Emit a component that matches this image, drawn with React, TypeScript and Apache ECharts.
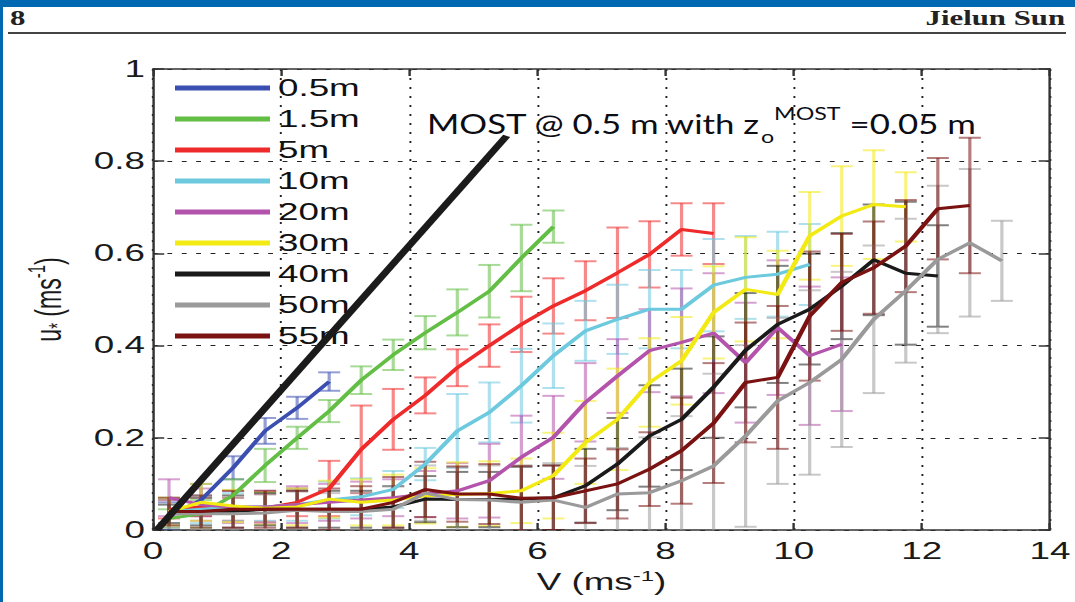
import React, { useEffect, useRef } from "react";
import * as echarts from "echarts";

// The reference figure is horizontally stretched; we draw in a narrower
// virtual space and stretch it back with CSS.
const S = 1.6;
const K = 1.29; // on-screen stretch of the annotation text
const H = 1.4; // on-screen stretch of the page header

const V = [0.25, 0.75, 1.25, 1.75, 2.25, 2.75, 3.25, 3.75, 4.25, 4.75, 5.25, 5.75, 6.25, 6.75, 7.25, 7.75, 8.25, 8.75, 9.25, 9.75, 10.25, 10.75, 11.25, 11.75, 12.25, 12.75, 13.25];
const xTicks = [0, 2, 4, 6, 8, 10, 12, 14];
const yTickLabels = ["0", "0.2", "0.4", "0.6", "0.8", "1"];

const heights = ["0.5m", "1.5m", "5m", "10m", "20m", "30m", "40m", "50m", "55m"];
const colors = ["#3b4fb0", "#62be44", "#ee2a2a", "#6cc9de", "#b453ac", "#f2ea12", "#1a1a1a", "#9a9a9a", "#7a1212"];

const u05 = [0.03, 0.065, 0.135, 0.215, 0.265, 0.322];
const e05 = [0.03, 0.035, 0.025, 0.028, 0.024, 0.02];
const u15 = [0.025, 0.035, 0.075, 0.14, 0.2, 0.258, 0.325, 0.38, 0.428, 0.472, 0.518, 0.59, 0.658];
const e15 = [0.02, 0.03, 0.035, 0.036, 0.024, 0.024, 0.03, 0.033, 0.036, 0.05, 0.057, 0.072, 0.035];
const u5 = [0.045, 0.05, 0.045, 0.048, 0.06, 0.09, 0.175, 0.24, 0.292, 0.352, 0.4, 0.446, 0.486, 0.519, 0.558, 0.598, 0.652, 0.643];
const e5 = [0.02, 0.02, 0.025, 0.03, 0.03, 0.06, 0.095, 0.066, 0.039, 0.04, 0.046, 0.06, 0.06, 0.064, 0.098, 0.072, 0.057, 0.066];
const u10 = [0.04, 0.045, 0.05, 0.05, 0.055, 0.065, 0.072, 0.088, 0.143, 0.215, 0.255, 0.313, 0.378, 0.432, 0.457, 0.479, 0.479, 0.531, 0.548, 0.555, 0.576];
const e10 = [0.03, 0.03, 0.03, 0.03, 0.035, 0.04, 0.04, 0.04, 0.035, 0.08, 0.065, 0.08, 0.07, 0.065, 0.075, 0.085, 0.085, 0.1, 0.09, 0.092, 0.088];
const u20 = [0.07, 0.055, 0.05, 0.05, 0.055, 0.06, 0.065, 0.07, 0.078, 0.085, 0.107, 0.158, 0.201, 0.277, 0.334, 0.389, 0.407, 0.427, 0.363, 0.439, 0.378, 0.403];
const e20 = [0.04, 0.035, 0.035, 0.035, 0.04, 0.04, 0.04, 0.04, 0.05, 0.06, 0.08, 0.09, 0.09, 0.085, 0.08, 0.09, 0.117, 0.13, 0.13, 0.146, 0.15, 0.145];
const u30 = [0.04, 0.06, 0.052, 0.047, 0.05, 0.067, 0.06, 0.065, 0.074, 0.077, 0.079, 0.085, 0.118, 0.19, 0.24, 0.32, 0.367, 0.472, 0.522, 0.511, 0.638, 0.681, 0.706, 0.701];
const e30 = [0.03, 0.04, 0.035, 0.035, 0.04, 0.04, 0.05, 0.055, 0.06, 0.07, 0.07, 0.07, 0.093, 0.09, 0.11, 0.096, 0.095, 0.1, 0.113, 0.095, 0.095, 0.108, 0.118, 0.075];
const u40 = [0.035, 0.04, 0.04, 0.045, 0.045, 0.045, 0.045, 0.05, 0.067, 0.066, 0.066, 0.067, 0.07, 0.096, 0.143, 0.204, 0.24, 0.31, 0.39, 0.446, 0.479, 0.529, 0.586, 0.557, 0.551];
const e40 = [0.02, 0.03, 0.035, 0.035, 0.04, 0.04, 0.04, 0.045, 0.05, 0.06, 0.06, 0.07, 0.07, 0.08, 0.1, 0.11, 0.11, 0.11, 0.124, 0.127, 0.12, 0.115, 0.12, 0.155, 0.11];
const u50 = [0.035, 0.035, 0.035, 0.037, 0.043, 0.04, 0.04, 0.045, 0.08, 0.066, 0.065, 0.06, 0.065, 0.049, 0.078, 0.081, 0.107, 0.139, 0.204, 0.28, 0.32, 0.37, 0.457, 0.519, 0.587, 0.623, 0.584];
const e50 = [0.03, 0.035, 0.035, 0.04, 0.04, 0.04, 0.04, 0.05, 0.06, 0.07, 0.075, 0.08, 0.08, 0.09, 0.1, 0.12, 0.14, 0.2, 0.197, 0.18, 0.2, 0.19, 0.16, 0.156, 0.16, 0.16, 0.087];
const u55 = [0.04, 0.04, 0.045, 0.045, 0.045, 0.045, 0.045, 0.06, 0.088, 0.078, 0.078, 0.069, 0.07, 0.085, 0.1, 0.132, 0.172, 0.232, 0.32, 0.331, 0.464, 0.537, 0.569, 0.616, 0.697, 0.704];
const e55 = [0.03, 0.035, 0.04, 0.04, 0.04, 0.045, 0.05, 0.055, 0.06, 0.06, 0.065, 0.07, 0.07, 0.07, 0.075, 0.08, 0.115, 0.13, 0.13, 0.155, 0.14, 0.105, 0.1, 0.1, 0.11, 0.147];

const means = [u05, u15, u5, u10, u20, u30, u40, u50, u55];
const errs = [e05, e15, e5, e10, e20, e30, e40, e50, e55];

const mostLine = [[0.06, 0], [5.52, 0.855]];

const FONT = "Liberation Sans";

function makeErr(color: string) {
  return (params: any, api: any) => {
    const x = api.value(0);
    const y = api.value(1);
    const e = api.value(2);
    const p1 = api.coord([x, y + e]);
    const p2 = api.coord([x, y - e]);
    const hw = 11 / S;
    const style = { stroke: color, lineWidth: 2, opacity: 0.55 };
    return {
      type: "group",
      children: [
        { type: "line", shape: { x1: p1[0], y1: p1[1], x2: p2[0], y2: p2[1] }, style },
        { type: "line", shape: { x1: p1[0] - hw, y1: p1[1], x2: p1[0] + hw, y2: p1[1] }, style },
        { type: "line", shape: { x1: p2[0] - hw, y1: p2[1], x2: p2[0] + hw, y2: p2[1] }, style },
      ],
    };
  };
}

export default function App() {
  const ref = useRef<HTMLDivElement>(null);
  useEffect(() => {
    if (!ref.current) return;
    const chart = echarts.init(ref.current, undefined, { renderer: "svg" });
    const series: any[] = [];
    heights.forEach((nm, i) => {
      const m = means[i];
      const er = errs[i];
      series.push({
        type: "custom",
        name: nm + " err",
        data: m.map((v, j) => [V[j], v, er[j]]),
        renderItem: makeErr(colors[i]),
        encode: { x: 0, y: 1 },
        clip: true,
        silent: true,
        xAxisIndex: 0,
        yAxisIndex: 0,
      });
      series.push({
        type: "line",
        name: nm,
        data: m.map((v, j) => [V[j], v]),
        showSymbol: false,
        symbol: "none",
        color: colors[i],
        itemStyle: { color: colors[i] },
        lineStyle: { width: 3, color: colors[i] },
        clip: true,
        silent: true,
      });
    });
    series.push({
      type: "line",
      name: "MOST",
      data: mostLine,
      showSymbol: false,
      symbol: "none",
      lineStyle: { width: 5, color: "#1b1b1b" },
      z: 5,
      silent: true,
    });

    const axisLineStyle = { color: "#333", width: 1.5 };
    const labelStyle = { fontSize: 23, fontFamily: FONT, color: "#1a1a1a" };
    const headerRich = {
      h: { fontSize: 22, fontFamily: "Liberation Serif", fontWeight: "bold", fill: "#222", color: "#222" },
    };
    const annFill = "#0c0c14";

    chart.setOption({
      animation: false,
      backgroundColor: "#ffffff",
      grid: { left: 153 / S, top: 69, width: 903 / S, height: 461 },
      legend: {
        data: heights,
        orient: "vertical",
        left: 175 / S,
        top: 76,
        itemWidth: 95 / S,
        itemHeight: 5,
        itemGap: 7,
        icon: "rect",
        padding: 0,
        selectedMode: false,
        textStyle: { fontSize: 23, fontFamily: FONT, color: "#111", lineHeight: 24 },
      },
      xAxis: [
        {
          type: "value",
          min: 0,
          max: 14,
          interval: 2,
          position: "bottom",
          axisLine: { show: true, onZero: false, lineStyle: axisLineStyle },
          axisTick: { show: true, inside: true, length: 7, lineStyle: axisLineStyle },
          axisLabel: {
            ...labelStyle,
            margin: 10,
            formatter: (v: number) => String(xTicks[Math.round(v / 2)]),
          },
          splitLine: { show: true, lineStyle: { type: [2, 7], color: "#222", width: 1.2 } },
          name: "{n|V (ms}{sup|-1}{n|)}",
          nameLocation: "middle",
          nameGap: 34,
          nameTextStyle: {
            rich: {
              n: { fontSize: 23, fontFamily: FONT, color: "#1a1a1a" },
              sup: { fontSize: 15, fontFamily: FONT, color: "#1a1a1a", padding: [0, 0, 14, 0] },
            },
          },
        },
        {
          type: "value",
          min: 0,
          max: 14,
          interval: 2,
          position: "top",
          axisLine: { show: true, onZero: false, lineStyle: axisLineStyle },
          axisTick: { show: true, inside: true, length: 7, lineStyle: axisLineStyle },
          axisLabel: { show: false },
          splitLine: { show: false },
        },
      ],
      yAxis: [
        {
          type: "value",
          min: 0,
          max: 1,
          interval: 0.2,
          position: "left",
          axisLine: { show: true, onZero: false, lineStyle: axisLineStyle },
          axisTick: { show: true, inside: true, length: 7, lineStyle: axisLineStyle },
          axisLabel: {
            ...labelStyle,
            margin: 5,
            formatter: (v: number) => yTickLabels[Math.round(v / 0.2)],
          },
          splitLine: { show: true, lineStyle: { type: [3, 6], color: "#222", width: 1.2 } },
          name: "{n|u}{sub|*}{n| (ms}{sup|-1}{n|)}",
          nameLocation: "middle",
          nameRotate: 90,
          nameGap: 51,
          nameTextStyle: {
            rich: {
              n: { fontSize: 23, fontFamily: FONT, color: "#1a1a1a" },
              sub: { fontSize: 15, fontFamily: FONT, color: "#1a1a1a", padding: [12, 0, 0, 0] },
              sup: { fontSize: 15, fontFamily: FONT, color: "#1a1a1a", padding: [0, 0, 14, 0] },
            },
          },
        },
        {
          type: "value",
          min: 0,
          max: 1,
          interval: 0.2,
          position: "right",
          axisLine: { show: true, onZero: false, lineStyle: axisLineStyle },
          axisTick: { show: true, inside: true, length: 7, lineStyle: axisLineStyle },
          axisLabel: { show: false },
          splitLine: { show: false },
        },
      ],
      series,
      graphic: [
        { type: "rect", shape: { x: 0, y: 0, width: 1075 / S, height: 7 }, style: { fill: "#0067b1" }, z: 100 },
        { type: "rect", shape: { x: 0, y: 0, width: 3 / S, height: 602 }, style: { fill: "#0067b1" }, z: 100 },
        {
          type: "text",
          x: 10 / S,
          y: 18,
          scaleX: H / S,
          z: 100,
          style: {
            text: "{h|8}",
            rich: headerRich,
            align: "left",
            textAlign: "left",
            verticalAlign: "middle",
            textVerticalAlign: "middle",
          },
        },
        {
          type: "text",
          x: 1065 / S,
          y: 18,
          scaleX: H / S,
          z: 100,
          style: {
            text: "{h|Jielun Sun}",
            rich: headerRich,
            align: "right",
            textAlign: "right",
            verticalAlign: "middle",
            textVerticalAlign: "middle",
          },
        },
        {
          type: "line",
          shape: { x1: 8 / S, y1: 33, x2: 1066 / S, y2: 33 },
          style: { stroke: "#444", lineWidth: 2 },
          z: 100,
        },
        {
          type: "text",
          x: 427 / S,
          y: 123.5,
          scaleX: K / S,
          z: 100,
          style: {
            text: "{a|MOST @ 0.5 m with z}{sub|o}{sup|MOST}{a| =0.05 m}",
            align: "left",
            verticalAlign: "middle",
            textAlign: "left",
            textVerticalAlign: "middle",
            rich: {
              a: { fontSize: 27, fontFamily: "Lato", fill: annFill, color: annFill, lineHeight: 30 },
              sub: { fontSize: 18, fontFamily: "Lato", fill: annFill, color: annFill, lineHeight: 18, padding: [26, 0, 0, 0] },
              sup: { fontSize: 18, fontFamily: "Lato", fill: annFill, color: annFill, lineHeight: 18, padding: [0, 0, 21, 0] },
            },
          },
        },
      ],
    });
    return () => chart.dispose();
  }, []);
  return (
    <div
      ref={ref}
      style={{
        position: "absolute",
        left: 0,
        top: 0,
        width: `${1075 / S}px`,
        height: "602px",
        transform: `scaleX(${S})`,
        transformOrigin: "0 0",
        background: "#fff",
      }}
    />
  );
}
